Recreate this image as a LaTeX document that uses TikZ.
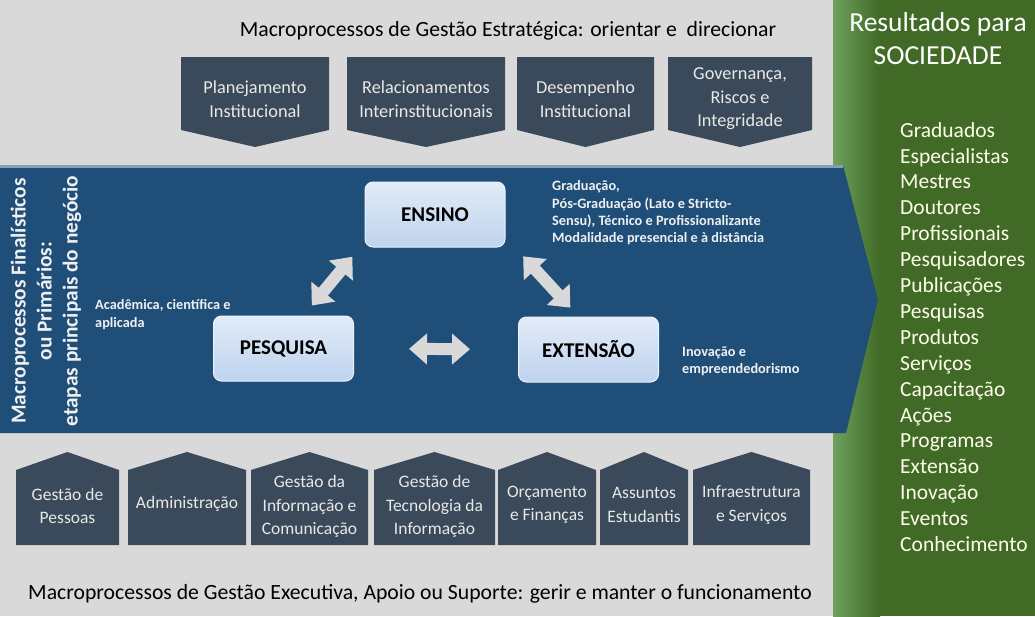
\documentclass[tikz,border=0pt]{standalone}
\usepackage{fontspec}
\setmainfont{Carlito}
\usetikzlibrary{arrows.meta,calc}
\definecolor{fundocinza}{RGB}{217,217,217}
\definecolor{ardosia}{RGB}{59,74,91}
\definecolor{azulfaixa}{RGB}{31,78,121}
\definecolor{azulclaro}{RGB}{190,211,238}
\definecolor{verdesoc}{RGB}{64,106,38}
\definecolor{textoclaro}{RGB}{232,232,232}

\begin{document}
\begin{tikzpicture}[x=1pt, y=-1pt,
	macro/.style={fill=ardosia},
	rotulo/.style={text=textoclaro, align=center, inner sep=0pt, font=\fontsize{18.3}{23.5}\selectfont},
	rotulobaixo/.style={rotulo, font=\fontsize{17.5}{23.5}\selectfont},
	etapa/.style={rounded corners=8pt, top color=white!55!azulclaro, bottom color=azulclaro, draw=white!70!azulclaro, line width=1pt, minimum width=140pt, minimum height=65pt, font=\fontsize{21}{23}\selectfont\bfseries},
	nota/.style={text=white!94!black, align=left, anchor=west, inner sep=0pt, font=\fontsize{14.3}{17.3}\selectfont\bfseries},
	duplaseta/.style={draw=fundocinza, line width=12pt, {Triangle[width=30pt,length=18pt]}-{Triangle[width=30pt,length=18pt]}}]

				\useasboundingbox (0,0) rectangle (1035,616);
				\fill[fundocinza] (0,0) rectangle (1035,616);

				% painel verde
				\fill[verdesoc] (833,0) rectangle (1035,616);
				\shade[left color=verdesoc!70!white!90!green, right color=verdesoc] (833,0) rectangle (880,616);

				% faixa azul
				\fill[azulfaixa] (0,165)--(843,165)--(878,300)--(846,433)--(0,433)--cycle;
				\draw[azulfaixa!55!white, line width=3pt] (0,166.5)--(843,166.5);

				% gestao estrategica
				\node[font=\fontsize{21.7}{24}\selectfont] (estrategica) at (508,31) {Macroprocessos de Gestão Estratégica: orientar e \ direcionar};

				\fill[macro] (181,57)--(329,57)--(329,130)--(255,147)--(181,130)--cycle;
				\fill[macro] (347,57)--(505,57)--(505,130)--(426,147)--(347,130)--cycle;
				\fill[macro] (517,57)--(654,57)--(654,130)--(585.5,147)--(517,130)--cycle;
				\fill[macro] (668,57)--(812,57)--(812,130)--(740,147)--(668,130)--cycle;
				\node[rotulo] (planejamento) at (255,99) {Planejamento\\Institucional};
				\node[rotulo] (relacionamentos) at (426,99) {Relacionamentos\\Interinstitucionais};
				\node[rotulo] (desempenho) at (585.5,99) {Desempenho\\Institucional};
				\node[rotulo] (governanca) at (740,99) {Governança,\\Riscos e\\Integridade};

				% finalisticos
				\node[rotate=90, text=white!94!black, align=center, font=\fontsize{21.3}{26}\selectfont\bfseries] (finalisticos) at (46,301) {Macroprocessos Finalísticos\\ou Primários:\\etapas principais do negócio};

				\node[etapa] (ensino) at (435,214.5) {ENSINO};
				\node[etapa] (pesquisa) at (283.5,348.5) {PESQUISA};
				\node[etapa] (extensao) at (588.5,349.5) {EXTENSÃO};

				\draw[duplaseta, shorten <=13pt, shorten >=12pt] ([xshift=20pt]pesquisa.north) -- ([xshift=-75pt]ensino.south);
				\draw[duplaseta, shorten <=12pt, shorten >=12pt] ([xshift=80pt]ensino.south) -- ([xshift=-10pt]extensao.north);
				\draw[duplaseta, shorten <=55pt, shorten >=48pt] (pesquisa.east) -- (extensao.west);

				\node[nota] (notapesquisa) at (95,314.5) {Acadêmica, científica e\\aplicada};
				\node[nota] (notaensino) at (552,213) {Graduação,\\Pós-Graduação (Lato e Stricto-\\Sensu), Técnico e Profissionalizante\\Modalidade presencial e à distância};
				\node[nota] (notaextensao) at (682,361.5) {Inovação e\\empreendedorismo};

				% gestao executiva
				\fill[macro] (16,545)--(16,470)--(67.5,452)--(119,470)--(119,545)--cycle;
				\fill[macro] (128,545)--(128,470)--(187,452)--(246,470)--(246,545)--cycle;
				\fill[macro] (251,545)--(251,470)--(309.5,452)--(368,470)--(368,545)--cycle;
				\fill[macro] (374,545)--(374,470)--(434.5,452)--(495,470)--(495,545)--cycle;
				\fill[macro] (498,545)--(498,470)--(547,452)--(596,470)--(596,545)--cycle;
				\fill[macro] (600,545)--(600,470)--(644,452)--(688,470)--(688,545)--cycle;
				\fill[macro] (693,545)--(693,470)--(751.5,452)--(810,470)--(810,545)--cycle;
				\node[rotulobaixo] (pessoas) at (67.5,506) {Gestão de\\Pessoas};
				\node[rotulobaixo] (administracao) at (187,504) {Administração};
				\node[rotulobaixo] (informacao) at (309.5,506.5) {Gestão da\\Informação e\\Comunicação};
				\node[rotulobaixo] (tecnologia) at (434.5,506.5) {Gestão de\\Tecnologia da\\Informação};
				\node[rotulobaixo] (orcamento) at (547,505) {Orçamento\\e Finanças};
				\node[rotulobaixo] (assuntos) at (644,505) {Assuntos\\Estudantis};
				\node[rotulobaixo] (infraestrutura) at (751.5,505) {Infraestrutura\\e Serviços};

				\node[font=\fontsize{21.7}{24}\selectfont] (executiva) at (420,594) {Macroprocessos de Gestão Executiva, Apoio ou Suporte: gerir e manter o funcionamento};

				% resultados
				\node[text=white, align=center, font=\fontsize{27.5}{33}\selectfont] (resultados) at (938,38.5) {Resultados para\\SOCIEDADE};
				\node[text=white!92!yellow, align=left, anchor=north west, inner sep=0pt, font=\fontsize{21.5}{25.9}\selectfont] (lista) at (900,122) {Graduados\\Especialistas\\Mestres\\Doutores\\Profissionais\\Pesquisadores\\Publicações\\Pesquisas\\Produtos\\Serviços\\Capacitação\\Ações\\Programas\\Extensão\\Inovação\\Eventos\\Conhecimento};

\end{tikzpicture}
\end{document}
